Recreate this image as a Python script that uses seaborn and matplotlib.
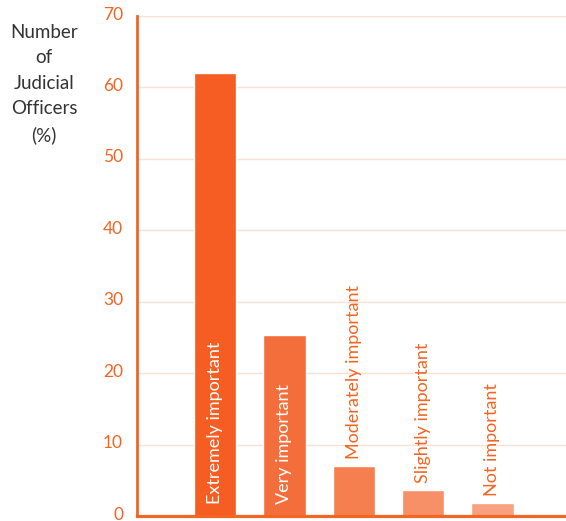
import matplotlib
import matplotlib.pyplot as plt
import matplotlib.transforms as mtransforms
import pandas as pd
import seaborn as sns

sns.set_style("white")
matplotlib.rcParams["font.family"] = ["Lato", "DejaVu Sans"]

categories = ["Extremely important", "Very important", "Moderately important",
              "Slightly important", "Not important"]
percentages = [62.0, 25.4, 7.0, 3.6, 1.8]
bar_colors = ["#F55D22", "#F46E3C", "#F57F4E", "#F78F67", "#F8A080"]
y_ticks = [0, 10, 20, 30, 40, 50, 60, 70]

ORANGE = "#F26522"

df = pd.DataFrame({"category": categories, "pct": percentages})

fig = plt.figure(figsize=(5.66, 5.21), dpi=100)
ax = fig.add_axes([137 / 566, 5 / 521, (566 - 137) / 566, 500 / 521])

sns.barplot(data=df, x="category", y="pct", hue="category", palette=bar_colors,
            width=0.61, legend=False, saturation=1, ax=ax)

ax.set_ylim(0, 70)
ax.set_xlim(-1.125, 5.06)
ax.set_yticks(y_ticks)
ax.set_xticks([])
ax.set_xlabel("")
ax.set_ylabel("")
ax.yaxis.grid(True, color="#FBE0D6", linewidth=1)
ax.set_axisbelow(True)
ax.tick_params(axis="y", length=0, pad=10, labelsize=12.5, labelcolor=ORANGE)

# nudge tick labels up a little so the "0" stays inside the figure
lift = mtransforms.ScaledTranslation(0, 3 / 100, fig.dpi_scale_trans)
for lbl in ax.get_yticklabels():
    lbl.set_transform(lbl.get_transform() + lift)

for side in ["top", "right"]:
    ax.spines[side].set_visible(False)
ax.spines["left"].set_color(ORANGE)
ax.spines["left"].set_linewidth(2)
ax.spines["bottom"].set_color(ORANGE)
ax.spines["bottom"].set_linewidth(2.3)

for i, (cat, val) in enumerate(zip(categories, percentages)):
    if val > 20:
        ax.annotate(cat, xy=(i, 0), xytext=(0, 12), textcoords="offset pixels",
                    rotation=90, ha="center", va="bottom", color="white", fontsize=13)
    else:
        ax.annotate(cat, xy=(i, val), xytext=(0, 7), textcoords="offset pixels",
                    rotation=90, ha="center", va="bottom", color=ORANGE, fontsize=13)

fig.text(44 / 566, 1 - 84 / 521, "Number\nof\nJudicial\nOfficers\n(%)",
         ha="center", va="center", fontsize=13.5, color="#333333", linespacing=1.6)

fig.savefig("out.png", dpi=100)
